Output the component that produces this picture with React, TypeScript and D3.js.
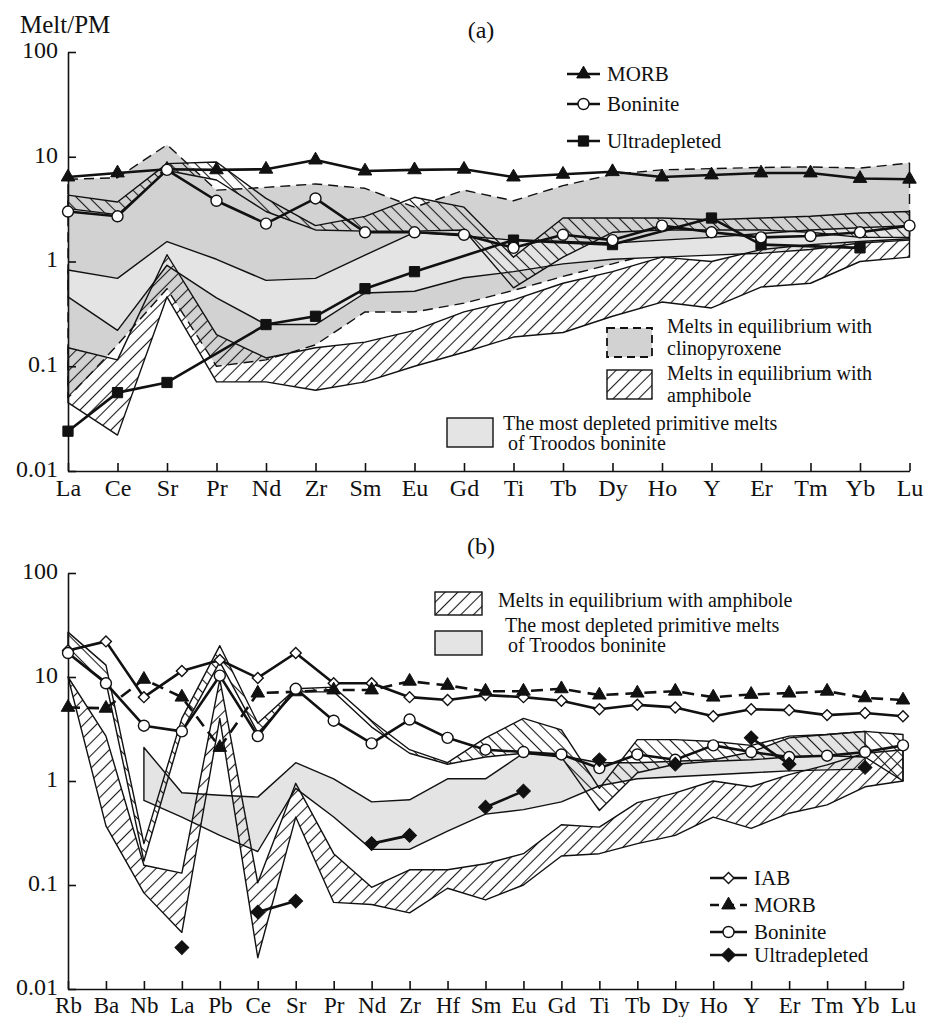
import React, { useRef, useEffect } from "react";
import * as d3 from "d3";

// ---- panel (a) ----
const elemsA = ["La", "Ce", "Sr", "Pr", "Nd", "Zr", "Sm", "Eu", "Gd", "Ti", "Tb", "Dy", "Ho", "Y", "Er", "Tm", "Yb", "Lu"];
const morbA = [6.4, 7.0, 7.6, 7.5, 7.6, 9.3, 7.3, 7.5, 7.6, 6.4, 6.8, 7.2, 6.4, 6.7, 7.0, 7.0, 6.2, 6.1];
const boniniteA = [3.0, 2.7, 7.5, 3.8, 2.3, 4.0, 1.9, 1.9, 1.8, 1.35, 1.8, 1.6, 2.2, 1.9, 1.7, 1.75, 1.9, 2.2];
const ultraA = [0.024, 0.056, 0.07, null, 0.25, 0.3, 0.55, 0.8, null, 1.6, null, 1.45, null, 2.6, 1.45, null, 1.35, null];
// melts in equilibrium with clinopyroxene
const cpxTopA = [6.1, 6.3, 13, 4.8, 5.1, 5.5, 5.0, 3.3, 4.8, 3.8, 5.3, 6.8, 7.5, 7.7, 7.9, 8.0, 7.8, 8.7];
const cpxBotA = [0.05, 0.16, 0.55, 0.1, 0.115, 0.16, 0.33, 0.33, 0.4, 0.53, 0.72, 0.95, 1.25, 1.5, 1.65, 1.67, 1.68, 1.7];
// Troodos boninite
const trTopA = [0.83, 0.69, 1.55, 1.05, 0.66, 0.69, 1.15, 1.9, 1.75, 1.6, 1.55, 1.5, 1.6, 1.7, 1.85, 2.0, 2.1, 2.2];
const trBotA = [0.46, 0.22, 0.92, 0.45, 0.25, 0.25, 0.5, 0.52, 0.7, 0.8, 0.95, 1.05, 1.1, 1.15, 1.2, 1.3, 1.5, 1.6];
// amphibole, lower and upper bands
const amLoTopA = [0.15, 0.115, 1.16, 0.2, 0.12, 0.15, 0.17, 0.22, 0.33, 0.43, 0.62, 0.8, 1.1, 1.0, 1.3, 1.45, 1.55, 1.65];
const amLoBotA = [0.045, 0.022, 0.46, 0.071, 0.071, 0.059, 0.071, 0.1, 0.136, 0.19, 0.21, 0.3, 0.41, 0.36, 0.57, 0.62, 1.0, 1.1];
const amUpTopA = [4.3, 3.7, 8.6, 8.9, 4.0, 2.2, 2.7, 4.1, 3.3, 1.1, 2.6, 2.6, 2.6, 2.5, 2.6, 2.7, 2.9, 3.0];
const amUpBotA = [3.2, 2.8, 7.4, 6.0, 3.0, 2.0, 1.95, 1.95, 2.0, 0.56, 1.1, 1.9, 2.0, 2.0, 2.0, 1.9, 1.7, 1.7];

// ---- panel (b) ----
const elemsB = ["Rb", "Ba", "Nb", "La", "Pb", "Ce", "Sr", "Pr", "Nd", "Zr", "Hf", "Sm", "Eu", "Gd", "Ti", "Tb", "Dy", "Ho", "Y", "Er", "Tm", "Yb", "Lu"];
const iabB = [18, 22, 6.4, 11.4, 14.6, 9.8, 17, 8.7, 8.7, 6.4, 6.0, 6.7, 6.4, 5.9, 4.9, 5.4, 5.1, 4.2, 4.9, 4.8, 4.3, 4.5, 4.2];
const morbB = [5.1, 5.0, 9.5, 6.4, 2.1, 7.0, 7.2, 7.5, 7.5, 9.1, 8.3, 7.3, 7.3, 7.7, 6.7, 7.0, 7.3, 6.4, 6.8, 7.0, 7.3, 6.3, 6.0];
const boniniteB = [17, 8.7, 3.4, 3.0, 10.3, 2.7, 7.7, 3.8, 2.3, 3.9, 2.6, 2.0, 1.9, 1.8, 1.33, 1.8, 1.6, 2.2, 1.9, 1.7, 1.75, 1.9, 2.2];
const ultraB = [null, null, null, 0.025, null, 0.055, 0.07, null, 0.25, 0.3, null, 0.56, 0.8, null, 1.6, null, 1.45, null, 2.6, 1.45, null, 1.35, null];
const trTopB = [null, null, 2.1, 0.77, 0.73, 0.7, 1.5, 1.05, 0.63, 0.66, 1.05, 1.05, 1.85, 1.75, 1.5, 1.5, 1.55, 1.6, 1.9, 2.6, 2.8, 3.0, null];
const trBotB = [null, null, 0.65, 0.45, 0.3, 0.21, 0.85, 0.45, 0.22, 0.22, 0.33, 0.48, 0.53, 0.63, 0.9, 1.05, 1.1, 1.15, 1.2, 1.25, 1.28, 1.3, null];
const amLoTopB = [10, 2.7, 0.155, 0.13, 9.5, 0.105, 0.95, 0.2, 0.095, 0.14, 0.14, 0.16, 0.2, 0.38, 0.36, 0.62, 0.77, 1.0, 0.88, 1.15, 1.43, 1.85, 2.0];
const amLoBotB = [10, 0.37, 0.084, 0.035, 4.0, 0.02, 0.45, 0.068, 0.065, 0.054, 0.093, 0.072, 0.1, 0.19, 0.2, 0.25, 0.3, 0.45, 0.35, 0.49, 0.59, 0.88, 1.0];
const amUpTopB = [27, 13, 0.25, 4.0, 20, 3.6, 7.7, 8.0, 3.8, 2.0, 1.5, 2.6, 4.0, 3.1, 0.85, 2.5, 2.5, 2.4, 2.2, 2.7, 2.8, 3.0, 2.8];
const amUpBotB = [17, 9, 0.17, 3.0, 14, 2.9, 7.2, 7.2, 3.3, 1.85, 1.45, 1.7, 1.85, 1.7, 0.52, 1.2, 1.45, 1.55, 1.6, 1.7, 1.75, 1.7, 1.0];

const yTicks = [0.01, 0.1, 1, 10, 100];
const FONT = "Liberation Serif, Tinos, DejaVu Serif, Times New Roman, serif";
const INK = "#111";
const CPX_GRAY = "#d2d2d2";
const TR_GRAY = "#e4e4e4";

function hatch(defs: any, id: string, angle: number) {
  const p = defs.append("pattern")
    .attr("id", id)
    .attr("patternUnits", "userSpaceOnUse")
    .attr("width", 9).attr("height", 9)
    .attr("patternTransform", `rotate(${angle})`);
  p.append("line")
    .attr("x1", 4.5).attr("y1", 0).attr("x2", 4.5).attr("y2", 9)
    .attr("stroke", "#1a1a1a").attr("stroke-width", 1.1);
}

function marker(g: any, kind: string, cx: number, cy: number) {
  const sym: any = {
    tri: d3.symbol(d3.symbolTriangle, 80),
    circle: d3.symbol(d3.symbolCircle, 95),
    square: d3.symbol(d3.symbolSquare, 105),
    diamondOpen: d3.symbol(d3.symbolSquare, 60),
    diamond: d3.symbol(d3.symbolSquare, 95),
  }[kind];
  const open = kind === "circle" || kind === "diamondOpen";
  const rot = kind.startsWith("diamond") ? 45 : 0;
  g.append("path")
    .attr("d", sym())
    .attr("transform", `translate(${cx},${cy}) rotate(${rot})`)
    .attr("fill", open ? "#fff" : INK)
    .attr("stroke", INK)
    .attr("stroke-width", open ? 1.4 : 1);
}

function drawPanel(svg: any, p: any) {
  const x = d3.scalePoint().domain(p.elems).range(p.xr);
  const y = d3.scaleLog().domain([0.01, 100]).range(p.yr);
  const idx = d3.range(p.elems.length);
  const g = svg.append("g");

  // shaded / hatched fields
  p.bands.forEach((b: any) => {
    const area = d3.area<number>()
      .defined(i => b.top[i] != null && b.bot[i] != null)
      .x(i => x(p.elems[i]) as number)
      .y0(i => y(b.bot[i]))
      .y1(i => y(b.top[i]));
    g.append("path")
      .attr("d", area(idx))
      .attr("fill", b.fill)
      .attr("stroke", INK)
      .attr("stroke-width", 1.4)
      .attr("stroke-linejoin", "round")
      .attr("stroke-dasharray", b.dash ? "10,6" : null);
  });

  // axes
  const xa = g.append("g")
    .attr("transform", `translate(0,${p.yr[0]})`)
    .call(d3.axisBottom(x).tickSize(-8).tickSizeOuter(0).tickPadding(8));
  xa.attr("font-family", null);
  xa.selectAll("text").style("font-family", FONT).attr("font-size", p.xFont).attr("fill", INK);

  const ya = g.append("g")
    .attr("transform", `translate(${p.xr[0]},0)`)
    .call(d3.axisLeft(y).tickValues(yTicks).tickSize(-8).tickSizeOuter(0).tickPadding(10).tickFormat((d: any) => String(d)));
  ya.attr("font-family", null);
  ya.selectAll("text").style("font-family", FONT).attr("font-size", 24).attr("fill", INK).attr("dy", "0.22em");
  g.selectAll(".domain, .tick line").attr("stroke", INK).attr("stroke-width", 1.6);

  // series lines
  p.series.forEach((s: any) => {
    const line = d3.line<number>()
      .x(i => x(p.elems[i]) as number)
      .y(i => y(s.vals[i]));
    let data = idx;
    if (s.gaps) line.defined(i => s.vals[i] != null);
    else data = idx.filter(i => s.vals[i] != null);
    g.append("path")
      .attr("d", line(data))
      .attr("fill", "none")
      .attr("stroke", INK)
      .attr("stroke-width", 2.6)
      .attr("stroke-linejoin", "round")
      .attr("stroke-dasharray", s.dash ? "12,7" : null);
  });
  // markers on top
  p.series.forEach((s: any) => {
    idx.filter(i => s.vals[i] != null).forEach(i => {
      marker(g, s.kind, x(p.elems[i]) as number, y(s.vals[i]));
    });
  });
}

function text(svg: any, x: number, y: number, str: string, size: number, anchor = "start") {
  svg.append("text")
    .attr("x", x).attr("y", y)
    .style("font-family", FONT)
    .attr("font-size", size)
    .attr("text-anchor", anchor)
    .attr("fill", INK)
    .text(str);
}

function legendRow(svg: any, x1: number, x2: number, yy: number, kind: string, label: string, dash: boolean) {
  svg.append("line")
    .attr("x1", x1).attr("x2", x2).attr("y1", yy).attr("y2", yy)
    .attr("stroke", INK).attr("stroke-width", 2.6)
    .attr("stroke-dasharray", dash ? "9,6" : null);
  marker(svg, kind, (x1 + x2) / 2, yy);
  text(svg, x2 + 7, yy + 7, label, 21);
}

function box(svg: any, x: number, y: number, w: number, h: number, fill: string, dash: boolean) {
  svg.append("rect")
    .attr("x", x).attr("y", y).attr("width", w).attr("height", h)
    .attr("fill", fill).attr("stroke", INK).attr("stroke-width", dash ? 1.8 : 1.4)
    .attr("stroke-dasharray", dash ? "8,5" : null);
}

export default function App() {
  const ref = useRef<SVGSVGElement>(null);

  useEffect(() => {
    const svg = d3.select(ref.current);
    svg.selectAll("*").remove();
    const defs = svg.append("defs");
    hatch(defs, "hatchR", 45);
    hatch(defs, "hatchL", -45);

    drawPanel(svg, {
      elems: elemsA,
      xr: [68, 909.5],
      yr: [471, 52],
      xFont: 24,
      bands: [
        { top: cpxTopA, bot: cpxBotA, fill: CPX_GRAY, dash: true },
        { top: trTopA, bot: trBotA, fill: TR_GRAY },
        { top: amLoTopA, bot: amLoBotA, fill: "url(#hatchR)" },
        { top: amUpTopA, bot: amUpBotA, fill: "url(#hatchL)" },
      ],
      series: [
        { vals: morbA, kind: "tri" },
        { vals: ultraA, kind: "square" },
        { vals: boniniteA, kind: "circle" },
      ],
    });

    drawPanel(svg, {
      elems: elemsB,
      xr: [68, 903],
      yr: [989, 573],
      xFont: 23,
      bands: [
        { top: trTopB, bot: trBotB, fill: TR_GRAY },
        { top: amLoTopB, bot: amLoBotB, fill: "url(#hatchR)" },
        { top: amUpTopB, bot: amUpBotB, fill: "url(#hatchL)" },
      ],
      series: [
        { vals: iabB, kind: "diamondOpen", gaps: true },
        { vals: morbB, kind: "tri", dash: true, gaps: true },
        { vals: boniniteB, kind: "circle", gaps: true },
        { vals: ultraB, kind: "diamond", gaps: true },
      ],
    });

    // titles
    text(svg, 20, 33, "Melt/PM", 25);
    text(svg, 481, 38, "(a)", 24, "middle");
    text(svg, 481, 554, "(b)", 24, "middle");

    // legend (a)
    legendRow(svg, 567, 600, 74, "tri", "MORB", false);
    legendRow(svg, 567, 600, 104, "circle", "Boninite", false);
    legendRow(svg, 567, 600, 141, "square", "Ultradepleted", false);
    box(svg, 607, 328, 45, 29, CPX_GRAY, true);
    text(svg, 667, 333, "Melts in equilibrium with", 20);
    text(svg, 667, 355, "clinopyroxene", 20);
    box(svg, 607, 370, 45, 29, "url(#hatchR)", false);
    text(svg, 667, 380, "Melts in equilibrium with", 20);
    text(svg, 667, 402, "amphibole", 20);
    box(svg, 447, 418, 46, 29, TR_GRAY, false);
    text(svg, 503, 430, "The most depleted primitive melts", 20);
    text(svg, 508, 450, "of Troodos boninite", 20);

    // legend (b)
    box(svg, 435, 592, 47, 23, "url(#hatchR)", false);
    text(svg, 498, 607, "Melts in equilibrium with amphibole", 20);
    box(svg, 435, 631, 47, 24, TR_GRAY, false);
    text(svg, 505, 632, "The most depleted primitive melts", 20);
    text(svg, 508, 652, "of Troodos boninite", 20);
    legendRow(svg, 710, 747, 878, "diamondOpen", "IAB", false);
    legendRow(svg, 710, 747, 905, "tri", "MORB", true);
    legendRow(svg, 710, 747, 932, "circle", "Boninite", false);
    legendRow(svg, 710, 747, 955, "diamond", "Ultradepleted", false);
  }, []);

  return (
    <svg
      ref={ref}
      width={930}
      height={1017}
      style={{ position: "absolute", left: 0, top: 0, background: "#fff" }}
    />
  );
}
